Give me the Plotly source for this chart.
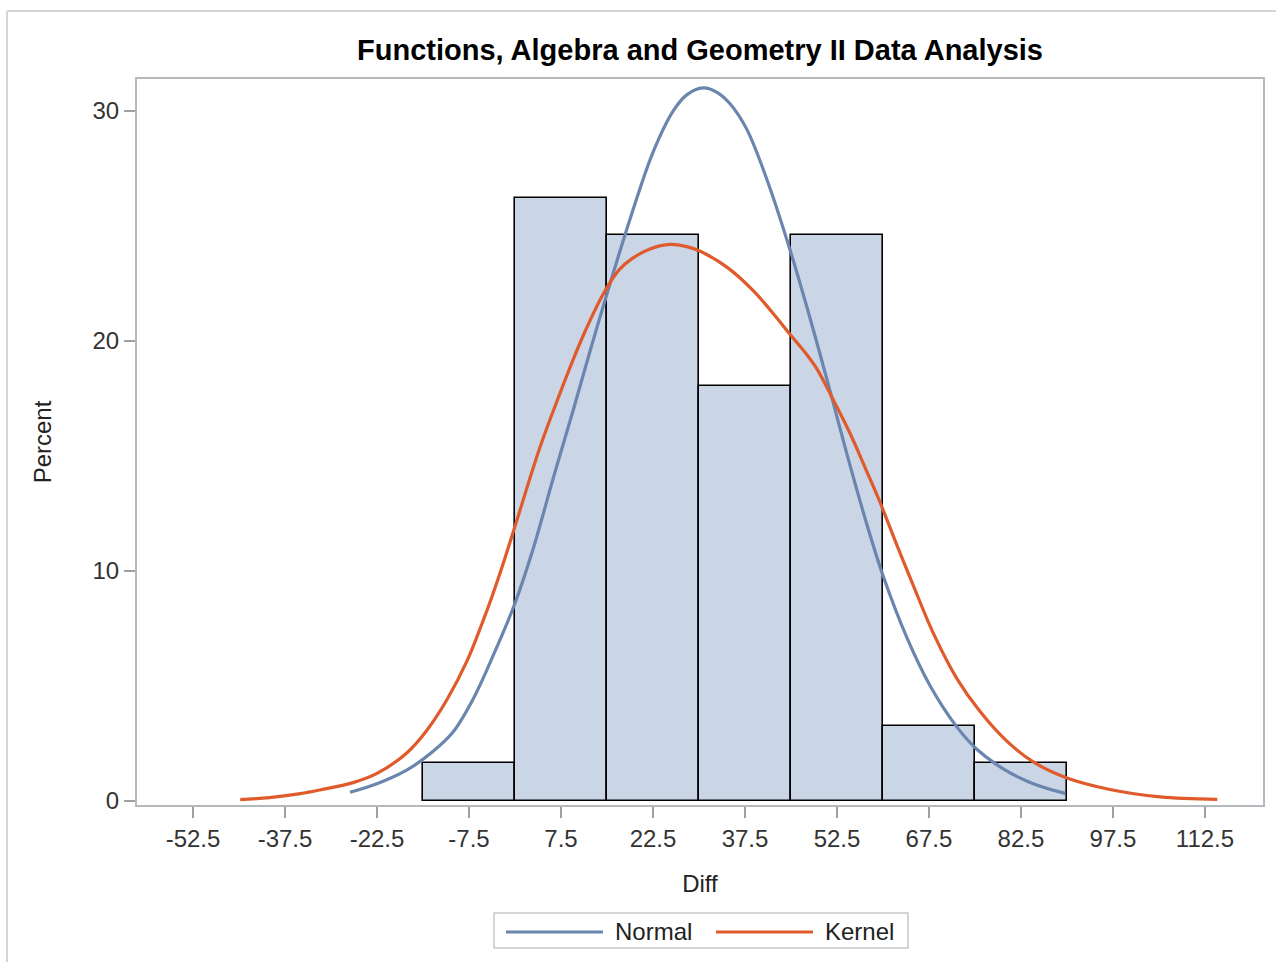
import plotly.graph_objects as go

# ---------------- data ----------------
bin_centers = [-7.5, 7.5, 22.5, 37.5, 52.5, 67.5, 82.5]
bin_percent = [1.64, 26.23, 24.59, 18.03, 24.59, 3.28, 1.64]
bin_width = 15

normal_x = [-26.9, -22.5, -17.6, -13.4, -10.1, -6.8, -3.6, 0.0, 3.0, 6.2, 9.5,
            12.5, 15.5, 19.0, 22.5, 25.8, 28.0, 30.7, 33.0, 35.1, 37.8, 41.1,
            44.8, 48.1, 51.4, 54.1, 57.4, 60.0, 63.9, 67.7, 72.1, 75.3, 79.6,
            84.5, 89.7]
normal_y = [0.38, 0.75, 1.35, 2.15, 3.0, 4.45, 6.3, 8.6, 11.0, 14.0, 17.0,
            19.8, 22.5, 25.5, 28.2, 30.0, 30.7, 31.0, 30.8, 30.3, 29.2, 27.0,
            24.0, 21.0, 17.8, 15.1, 12.0, 9.8, 7.1, 5.0, 3.2, 2.25, 1.4,
            0.75, 0.33]

kernel_x = [-44.8, -40.0, -35.0, -31.8, -26.4, -22.5, -17.6, -14.3, -11.1, -7.8, -5.4,
            -3.6, -1.95, 0.3, 4.1, 7.3, 9.5, 11.4, 14.3, 17.0, 19.2, 22.0, 25.3,
            28.0, 30.2, 34.6, 38.8, 42.7, 44.8, 47.6, 49.2, 51.4, 54.6, 57.4, 59.5,
            62.3, 64.9, 68.2, 72.1, 75.8, 80.2, 84.5, 90.0, 97.0, 105.2, 114.5]
kernel_y = [0.06, 0.15, 0.32, 0.48, 0.8, 1.2, 2.1, 3.1, 4.4, 6.1, 7.7,
            9.0, 10.3, 12.2, 15.4, 17.7, 19.2, 20.4, 22.0, 23.1, 23.6, 24.0, 24.2,
            24.1, 23.9, 23.2, 22.2, 21.0, 20.3, 19.4, 18.8, 17.7, 16.0, 14.3, 13.0,
            11.1, 9.4, 7.3, 5.3, 3.9, 2.6, 1.7, 1.0, 0.5, 0.18, 0.07]

x_ticks = [-52.5, -37.5, -22.5, -7.5, 7.5, 22.5, 37.5, 52.5, 67.5, 82.5, 97.5, 112.5]
y_ticks = [0, 10, 20, 30]

title_text = "Functions, Algebra and Geometry II Data Analysis"
series_names = ["Normal", "Kernel"]

# ---------------- styling ----------------
W, H = 1276, 962
PL, PR, PT, PB = 137, 1263, 79, 805  # plot area in pixels
FONT = "Arial, Liberation Sans, sans-serif"
BAR_FILL = "#cad5e5"
BLUE = "#6a85ae"
ORANGE = "#e05a2b"
FRAME = "#b3b9bd"


def px_x(p):
    return (p - PL) / (PR - PL)


def px_y(p):
    return (PB - p) / (PB - PT)


fig = go.Figure()

fig.add_trace(go.Bar(
    x=bin_centers, y=bin_percent, width=[bin_width] * len(bin_centers),
    marker=dict(color=BAR_FILL, line=dict(color="#000000", width=1.6)),
    showlegend=False, hoverinfo="x+y",
))

fig.add_trace(go.Scatter(
    x=normal_x, y=normal_y, mode="lines", name=series_names[0],
    line=dict(color=BLUE, width=3.2, shape="spline", smoothing=1.0),
    showlegend=False,
))
fig.add_trace(go.Scatter(
    x=kernel_x, y=kernel_y, mode="lines", name=series_names[1],
    line=dict(color=ORANGE, width=3.2, shape="spline", smoothing=1.0),
    showlegend=False,
))

shapes = []
# outer graph border (partially visible)
shapes.append(dict(type="line", xref="paper", yref="paper",
                   x0=px_x(7), x1=px_x(7), y0=px_y(11), y1=px_y(1100),
                   line=dict(color="#d4d4d4", width=2)))
shapes.append(dict(type="line", xref="paper", yref="paper",
                   x0=px_x(7), x1=px_x(1400), y0=px_y(11), y1=px_y(11),
                   line=dict(color="#d4d4d4", width=2)))
# legend box
shapes.append(dict(type="rect", xref="paper", yref="paper",
                   x0=px_x(494), x1=px_x(908), y0=px_y(948), y1=px_y(913),
                   line=dict(color="#c8c8c8", width=1.5), fillcolor="white"))
shapes.append(dict(type="line", xref="paper", yref="paper",
                   x0=px_x(506), x1=px_x(603), y0=px_y(932), y1=px_y(932),
                   line=dict(color=BLUE, width=3.2)))
shapes.append(dict(type="line", xref="paper", yref="paper",
                   x0=px_x(716), x1=px_x(813), y0=px_y(932), y1=px_y(932),
                   line=dict(color=ORANGE, width=3.2)))

annotations = [
    dict(text=series_names[0], xref="paper", yref="paper", x=px_x(613), y=px_y(931),
         xanchor="left", yanchor="middle", showarrow=False,
         font=dict(family=FONT, size=24, color="#222222")),
    dict(text=series_names[1], xref="paper", yref="paper", x=px_x(823), y=px_y(931),
         xanchor="left", yanchor="middle", showarrow=False,
         font=dict(family=FONT, size=24, color="#222222")),
]

fig.update_layout(
    width=W, height=H,
    margin=dict(l=PL, r=W - PR, t=PT, b=H - PB, pad=0),
    paper_bgcolor="white", plot_bgcolor="white",
    bargap=0,
    title=dict(text="<b>" + title_text + "</b>", x=px_x(700), xref="paper",
               y=1 - 50 / H, yref="container", xanchor="center", yanchor="middle",
               font=dict(family=FONT, size=29, color="#000000")),
    font=dict(family=FONT, size=24, color="#333333"),
    shapes=shapes, annotations=annotations,
    showlegend=False,
)

fig.update_xaxes(
    range=[-61.63, 121.96], tickvals=x_ticks, ticktext=[str(v) for v in x_ticks],
    showgrid=False, zeroline=False,
    showline=True, linecolor=FRAME, linewidth=2, mirror=True,
    ticks="outside", ticklen=11, tickwidth=1.5, tickcolor="#a0a0a0",
    tickfont=dict(family=FONT, size=24, color="#333333"),
    title=dict(text="Diff", standoff=24, font=dict(family=FONT, size=24, color="#222222")),
)
fig.update_yaxes(
    range=[-0.174, 31.39], tickvals=y_ticks,
    showgrid=False, zeroline=False,
    showline=True, linecolor=FRAME, linewidth=2, mirror=True,
    ticks="outside", ticklen=11, tickwidth=1.5, tickcolor="#a0a0a0",
    tickfont=dict(family=FONT, size=24, color="#333333"),
    title=dict(text="Percent", standoff=34, font=dict(family=FONT, size=24, color="#222222")),
)

fig.write_html("out.html")
